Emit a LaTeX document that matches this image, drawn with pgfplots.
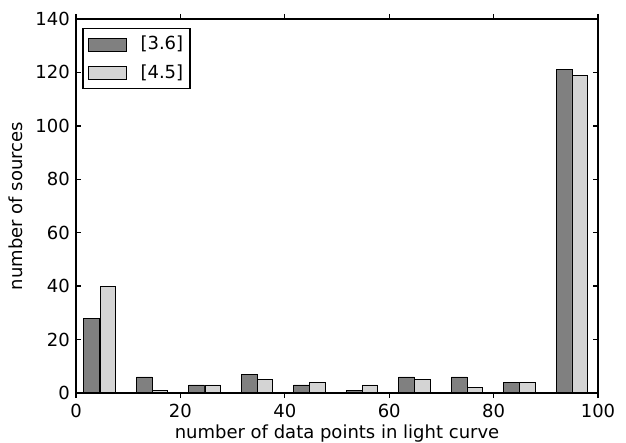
\documentclass[border=0pt]{standalone}
\usepackage{pgfplots}
\pgfplotsset{compat=1.18}
\usepackage{fontspec}
\setmainfont{DejaVu Sans}
\definecolor{darkbar}{gray}{0.5}
\definecolor{lightbar}{gray}{0.83}
\begin{document}
\fontsize{18}{21}\selectfont
\begin{tikzpicture}
\path[use as bounding box] (-76pt,-49pt) rectangle (550pt,393pt);
\begin{axis}[
  at={(0pt,0pt)}, anchor=south west,
  scale only axis,
  width=522pt, height=374pt,
  axis on top,
  xmin=0, xmax=100, ymin=0, ymax=140,
  xtick={0,20,40,60,80,100},
  ytick={0,20,40,60,80,100,120,140},
  tick align=inside,
  major tick length=5pt,
  minor tick num=0,
  tick style={line width=1.3pt, black},
  axis line style={line width=1.5pt},
  every axis plot/.append style={line width=0.8pt},
  /pgf/number format/assume math mode=true,
  tick label style={font=\fontsize{18}{21}\selectfont},
  label style={font=\fontsize{18}{21}\selectfont},
  xlabel={number of data points in light curve},
  ylabel={number of sources},
  xlabel style={yshift=5pt},
  ylabel style={yshift=0pt},
  ybar, bar width=3, bar shift=0pt,
  legend style={at={(0.0115,0.976)}, anchor=north west, draw=black, line width=1.5pt,
    font=\fontsize{18}{21}\selectfont, inner xsep=5pt, inner ysep=5.5pt,
    row sep=8pt, cells={anchor=west}},
  legend image code/.code={\draw[#1, line width=0.8pt] (0pt,-6.5pt) rectangle (38pt,6.5pt); \path (50pt,0pt);},
]
\addplot[fill=darkbar, draw=black] coordinates {
 (3.0,28) (13.1,6) (23.1,3) (33.2,7) (43.2,3) (53.3,1) (63.3,6) (73.4,6) (83.4,4) (93.5,121)};
\addlegendentry{[3.6]}
\addplot[fill=lightbar, draw=black] coordinates {
 (6.1,40) (16.1,1) (26.2,3) (36.2,5) (46.3,4) (56.3,3) (66.4,5) (76.4,2) (86.5,4) (96.5,119)};
\addlegendentry{[4.5]}
\end{axis}
\end{tikzpicture}
\end{document}
